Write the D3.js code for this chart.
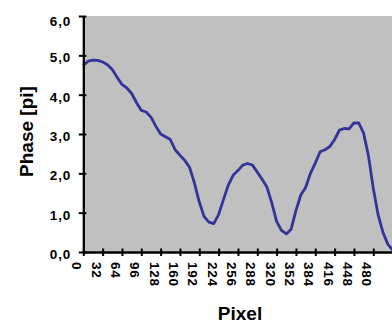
<!DOCTYPE html>
<html>
<head>
<meta charset="utf-8">
<script src="https://cdn.jsdelivr.net/npm/d3@7"></script>
<style>
  html, body { margin: 0; padding: 0; background: #ffffff; }
  svg { display: block; }
  .tick-label { font-family: "Liberation Sans", Arial, sans-serif; font-weight: bold; font-size: 13.5px; fill: #000; letter-spacing: 0.8px; }
  .title { font-family: "Liberation Sans", Arial, sans-serif; font-weight: bold; font-size: 19px; fill: #000; }
</style>
</head>
<body>
<script>
// Unwrapped phase profile along a row of pixels
const pixel = [0, 8, 16, 24, 32, 40, 48, 56, 64, 72, 80, 88, 96, 104, 112, 120,
  128, 136, 144, 152, 160, 168, 176, 184, 192, 200, 208, 216, 224, 232, 240, 248,
  256, 264, 272, 280, 288, 296, 304, 312, 320, 328, 336, 344, 352, 360, 368, 376,
  384, 392, 400, 408, 416, 424, 432, 440, 448, 456, 464, 472, 480, 488, 496, 504, 512];
const phase = [4.74, 4.85, 4.88, 4.87, 4.83, 4.76, 4.64, 4.44, 4.26, 4.17, 4.03, 3.80, 3.60, 3.56, 3.43, 3.20,
  3.00, 2.93, 2.86, 2.60, 2.46, 2.33, 2.15, 1.75, 1.27, 0.90, 0.76, 0.72, 0.95, 1.33, 1.70, 1.95,
  2.07, 2.21, 2.25, 2.21, 2.03, 1.85, 1.65, 1.25, 0.78, 0.55, 0.46, 0.58, 1.05, 1.45, 1.64, 2.00,
  2.26, 2.55, 2.60, 2.68, 2.86, 3.10, 3.14, 3.13, 3.28, 3.28, 3.02, 2.45, 1.62, 0.95, 0.50, 0.20, 0.05];

const pixelTicks = [0, 32, 64, 96, 128, 160, 192, 224, 256, 288, 320, 352, 384, 416, 448, 480];
const phaseTicks = [0, 1, 2, 3, 4, 5, 6];

const W = 392, H = 322;
const x = d3.scaleLinear().domain([0, 512]).range([83.3, 392.6]);
const y = d3.scaleLinear().domain([0, 6]).range([252, 16]);
const fmt = d => d.toFixed(1).replace(".", ",");

const svg = d3.select("body").append("svg").attr("width", W).attr("height", H);

// plot area
svg.append("rect")
  .attr("x", x(0)).attr("y", y(6))
  .attr("width", x(512) - x(0)).attr("height", y(0) - y(6))
  .attr("fill", "#c0c0c0");

// phase curve
const line = d3.line().x((d, i) => x(pixel[i])).y(d => y(d));
svg.append("path")
  .datum(phase)
  .attr("d", line)
  .attr("fill", "none")
  .attr("stroke", "#333399")
  .attr("stroke-width", 2.8)
  .attr("stroke-linejoin", "round");

// y axis: ticks cross the axis line
const yAxisOut = svg.append("g").attr("transform", `translate(${x(0)},0)`)
  .call(d3.axisLeft(y).tickValues(phaseTicks).tickSize(4.5).tickSizeOuter(0).tickFormat(""));
const yAxisIn = svg.append("g").attr("transform", `translate(${x(0)},0)`)
  .call(d3.axisRight(y).tickValues(phaseTicks).tickSize(3).tickSizeOuter(0).tickFormat(""));
[yAxisOut, yAxisIn].forEach(g => {
  g.selectAll("path.domain").attr("stroke", "#000").attr("stroke-width", 2);
  g.selectAll(".tick line").attr("stroke", "#000").attr("stroke-width", 2);
});
svg.append("g").selectAll("text").data(phaseTicks).join("text")
  .attr("class", "tick-label")
  .attr("x", 71)
  .attr("y", d => Math.max(y(d) + 2, 21))
  .attr("dy", "0.36em")
  .attr("text-anchor", "end")
  .text(fmt);

// x axis
const xAxisOut = svg.append("g").attr("transform", `translate(0,${y(0)})`)
  .call(d3.axisBottom(x).tickValues(pixelTicks).tickSize(4).tickSizeOuter(0).tickFormat(""));
const xAxisIn = svg.append("g").attr("transform", `translate(0,${y(0)})`)
  .call(d3.axisTop(x).tickValues(pixelTicks).tickSize(3.5).tickSizeOuter(0).tickFormat(""));
[xAxisOut, xAxisIn].forEach(g => {
  g.selectAll("path.domain").attr("stroke", "#000").attr("stroke-width", 2);
  g.selectAll(".tick line").attr("stroke", "#000").attr("stroke-width", 2);
});
svg.append("g").selectAll("text").data(pixelTicks).join("text")
  .attr("class", "tick-label")
  .attr("transform", d => `translate(${x(d) - 6},262) rotate(90)`)
  .attr("dy", "0.36em")
  .attr("text-anchor", "start")
  .text(d => d);

// axis titles
svg.append("text").attr("class", "title")
  .attr("transform", "translate(33,131.5) rotate(-90)")
  .attr("text-anchor", "middle")
  .text("Phase [pi]");
svg.append("text").attr("class", "title")
  .attr("x", 240).attr("y", 319.5)
  .attr("text-anchor", "middle")
  .text("Pixel");
</script>
</body>
</html>
